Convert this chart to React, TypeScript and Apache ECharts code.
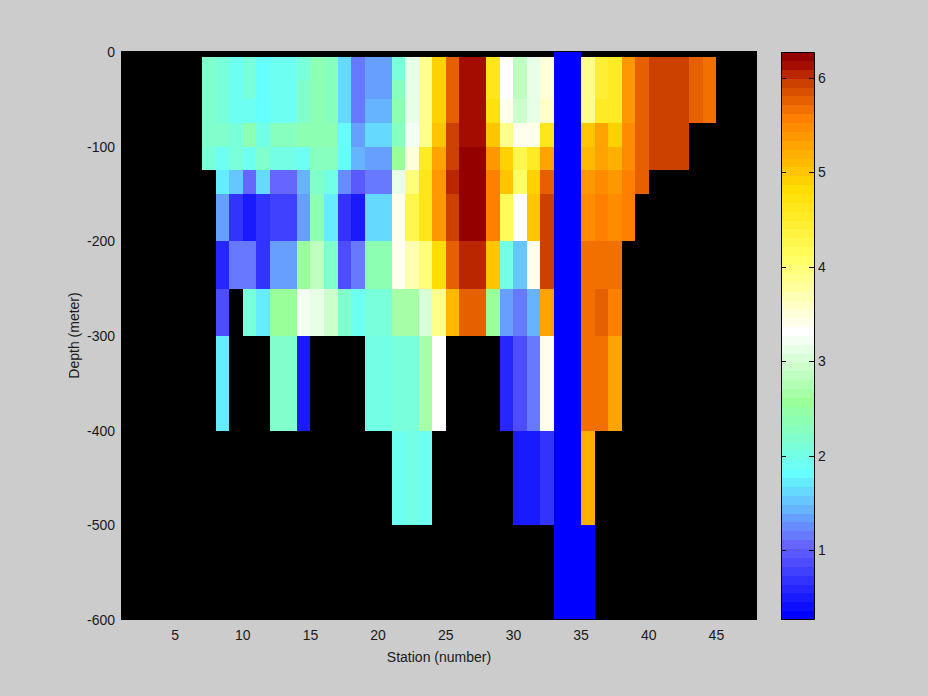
import React, { useEffect, useRef } from "react";
import * as echarts from "echarts";

const _ = null;
const firstStation = 7;
const depthEdges = [0, -5, -30, -50, -75, -100, -125, -150, -200, -250, -300, -400, -500, -599];

const row0 = [_,_,_,_,_,_,_,_,_,_,_,_,_,_,_,_,_,_,_,_,_,_,_,_,_,_,.31,.31,_,_,_,_,_,_,_,_,_,_];
const row1 = [2.19,2.05,1.95,2.09,1.81,1.95,1.95,2.09,2.37,2.28,1.62,1.20,1.34,1.34,2.09,3.13,3.88,4.91,5.80,6.13,6.13,4.67,3.31,2.89,3.13,3.50,.31,.31,3.88,4.44,4.53,5.38,5.75,5.94,5.94,5.94,5.75,5.66];
const row2 = [2.19,2.05,1.95,2.09,1.81,1.95,1.95,2.23,2.37,2.28,1.62,1.20,1.34,1.34,2.28,3.13,3.88,4.91,5.80,6.13,6.13,4.67,3.36,2.89,3.13,3.50,.31,.31,3.88,4.44,4.53,5.38,5.75,5.94,5.94,5.94,5.75,5.66];
const row3 = [2.19,2.05,1.91,1.95,1.81,1.95,1.95,2.23,2.37,2.28,1.62,1.20,1.48,1.48,2.37,3.13,3.88,4.91,5.80,6.13,6.13,4.72,3.41,2.98,3.13,3.59,.31,.31,3.88,4.53,4.53,5.38,5.75,5.94,5.94,5.94,5.75,5.66];
const row4 = [2.23,2.23,2.09,2.37,2.00,2.28,2.28,2.33,2.37,2.37,1.81,1.34,1.62,1.62,2.28,3.22,3.88,5.00,5.94,6.13,6.13,5.00,3.88,3.41,3.41,4.63,.31,.31,5.00,5.24,4.91,5.47,5.75,5.94,5.94,5.94,_,_];
const row5 = [2.09,1.91,2.09,1.95,2.23,2.00,2.00,1.86,2.28,2.28,1.81,1.44,1.34,1.34,2.52,3.50,4.53,5.28,5.94,6.22,6.22,5.38,4.91,4.25,4.53,5.28,.31,.31,5.14,5.28,5.19,5.47,5.75,5.94,5.94,5.94,_,_];
const row6 = [_,1.76,1.53,1.06,1.67,1.06,1.06,1.39,2.19,2.00,1.25,.97,1.11,1.11,3.13,3.97,4.67,5.38,6.04,6.22,6.22,5.57,5.00,4.02,4.91,5.75,.31,.31,5.38,5.43,5.38,5.57,5.75,_,_,_,_,_];
const row7 = [_,1.34,.69,.50,.69,.78,.78,1.34,2.37,1.76,.73,.50,1.67,1.67,3.41,4.25,4.67,5.38,5.94,6.22,6.22,5.57,4.16,3.31,5.00,5.94,.31,.31,5.47,5.57,5.47,5.57,_,_,_,_,_,_];
const row8 = [_,.59,1.11,1.11,.73,1.34,1.34,2.56,2.84,2.19,.92,1.20,2.37,2.37,3.41,3.69,3.97,4.82,5.75,6.04,6.04,5.00,2.00,1.53,3.41,5.94,.31,.31,5.66,5.66,5.66,_,_,_,_,_,_,_];
const row9 = [_,.87,_,2.14,1.76,2.56,2.56,3.22,3.08,2.94,2.19,1.95,2.14,2.14,2.61,2.61,3.03,3.88,5.14,5.75,5.75,2.56,1.34,1.15,1.44,5.28,.31,.31,5.66,5.75,5.57,_,_,_,_,_,_,_];
const row10 = [_,1.76,_,_,_,2.23,2.23,.50,_,_,_,_,2.00,2.00,2.09,2.09,2.70,3.31,_,_,_,_,.59,.87,1.15,3.41,.31,.31,5.66,5.66,5.28,_,_,_,_,_,_,_];
const row11 = [_,_,_,_,_,_,_,_,_,_,_,_,_,_,1.91,2.00,1.91,_,_,_,_,_,_,.50,.50,.69,.31,.31,5.19,_,_,_,_,_,_,_,_,_];
const row12 = [_,_,_,_,_,_,_,_,_,_,_,_,_,_,_,_,_,_,_,_,_,_,_,_,_,_,.31,.31,.31,_,_,_,_,_,_,_,_,_];
const rows = [row0,row1,row2,row3,row4,row5,row6,row7,row8,row9,row10,row11,row12];

const xTicks = [5,10,15,20,25,30,35,40,45];
const yTicks = [0,-100,-200,-300,-400,-500,-600];
const barTicks = [1,2,3,4,5,6];
const vMin = 0.263;
const vMax = 6.27;

// colormap: level -> colour anchors (64 levels)
const anchorLevels = [0, 8, 16, 24, 32, 40, 48, 56, 60, 62, 63];
const anchorColors = [
  [0,0,255],[102,102,255],[102,255,255],[153,255,153],[255,255,255],
  [255,255,102],[255,221,0],[255,128,0],[204,64,0],[165,12,0],[148,0,0],
];
const LEVELS = 64;
const levelColor = (i: number) => {
  let p = 0;
  while (p < anchorLevels.length - 2 && i >= anchorLevels[p + 1]) p++;
  const f = (i - anchorLevels[p]) / (anchorLevels[p + 1] - anchorLevels[p]);
  const a = anchorColors[p], b = anchorColors[p + 1];
  const c = a.map((v, k) => Math.round(v + (b[k] - v) * f));
  return `rgb(${c[0]},${c[1]},${c[2]})`;
};
const valueLevel = (v: number) =>
  Math.max(0, Math.min(LEVELS - 1, Math.floor(((v - vMin) / (vMax - vMin)) * LEVELS)));

const cells: number[][] = [];
rows.forEach((row, r) => {
  row.forEach((v, c) => {
    if (v !== null) cells.push([firstStation + c, firstStation + c + 1, depthEdges[r], depthEdges[r + 1], v as number]);
  });
});
const barCells: number[][] = [];
for (let i = 0; i < LEVELS; i++) {
  barCells.push([i, vMin + (i / LEVELS) * (vMax - vMin), vMin + ((i + 1) / LEVELS) * (vMax - vMin)]);
}

const font = "Liberation Sans";
const fontSize = 14;
const textColor = "#1a1a1a";

export default function App() {
  const ref = useRef<HTMLDivElement>(null);
  useEffect(() => {
    const chart = echarts.init(ref.current!, null, { renderer: "svg" });
    chart.setOption({
      animation: false,
      backgroundColor: "#cccccc",
      textStyle: { fontFamily: font },
      grid: [
        { left: 121, top: 51, width: 636, height: 569, show: true, backgroundColor: "#000", borderWidth: 0 },
        { left: 781, top: 52, width: 33, height: 568, show: false },
      ],
      xAxis: [
        {
          gridIndex: 0, type: "value", min: 1, max: 48,
          name: "Station (number)", nameLocation: "middle", nameGap: 30, nameMoveOverlap: false,
          nameTextStyle: { color: textColor, fontSize, fontFamily: font },
          axisLine: { show: false }, axisTick: { show: false }, splitLine: { show: false },
          axisLabel: { customValues: xTicks, color: textColor, fontSize, fontFamily: font, margin: 8 },
        },
        { gridIndex: 1, type: "value", min: 0, max: 1, show: false },
      ],
      yAxis: [
        {
          gridIndex: 0, type: "value", min: -600, max: 1,
          name: "Depth (meter)", nameLocation: "middle", nameGap: 40, nameMoveOverlap: false,
          nameTextStyle: { color: textColor, fontSize, fontFamily: font },
          axisLine: { show: false }, axisTick: { show: false }, splitLine: { show: false },
          axisLabel: { customValues: yTicks, color: textColor, fontSize, fontFamily: font, margin: 6, padding: [2, 0, 0, 0] },
        },
        {
          gridIndex: 1, type: "value", min: vMin, max: vMax, position: "right",
          axisLine: { show: false }, splitLine: { show: false }, axisTick: { show: false },
          axisLabel: { customValues: barTicks, color: textColor, fontSize, fontFamily: font, margin: 4 },
        },
      ],
      series: [
        {
          type: "custom", xAxisIndex: 0, yAxisIndex: 0, silent: true, clip: true, data: cells,
          encode: { x: [0, 1], y: [2, 3] },
          renderItem: (_p: any, api: any) => {
            const a = api.coord([api.value(0), api.value(2)]);
            const b = api.coord([api.value(1), api.value(3)]);
            const x = Math.round(a[0]), y = Math.round(a[1]);
            return {
              type: "rect",
              shape: { x, y, width: Math.round(b[0]) - x, height: Math.round(b[1]) - y },
              style: { fill: levelColor(valueLevel(api.value(4))) },
            };
          },
        },
        {
          type: "custom", xAxisIndex: 1, yAxisIndex: 1, silent: true, data: barCells,
          encode: { y: [1, 2] },
          renderItem: (_p: any, api: any) => {
            const a = api.coord([0, api.value(2)]);
            const b = api.coord([1, api.value(1)]);
            const x = Math.round(a[0]), y = Math.round(a[1]);
            return {
              type: "rect",
              shape: { x, y, width: Math.round(b[0]) - x, height: Math.round(b[1]) - y },
              style: { fill: levelColor(api.value(0)) },
            };
          },
        },
        {
          type: "custom", xAxisIndex: 1, yAxisIndex: 1, silent: true, z: 5,
          data: barTicks.map((t) => [t]),
          encode: { y: 0 },
          renderItem: (_p: any, api: any) => {
            const l = api.coord([0, api.value(0)]);
            const r = api.coord([1, api.value(0)]);
            const y = Math.round(l[1]) + 0.5;
            const lineStyle = { stroke: "#000", lineWidth: 1 };
            return {
              type: "group",
              children: [
                { type: "line", shape: { x1: l[0], y1: y, x2: l[0] + 5, y2: y }, style: lineStyle },
                { type: "line", shape: { x1: r[0] - 5, y1: y, x2: r[0], y2: y }, style: lineStyle },
              ],
            };
          },
        },
      ],
      graphic: [
        {
          type: "rect", z: 20, silent: true,
          shape: { x: 781.5, y: 52.5, width: 33, height: 567 },
          style: { fill: "none", stroke: "#000", lineWidth: 1 },
        },
      ],
    });
    return () => chart.dispose();
  }, []);
  return <div ref={ref} style={{ position: "fixed", left: 0, top: 0, width: 928, height: 696 }} />;
}
